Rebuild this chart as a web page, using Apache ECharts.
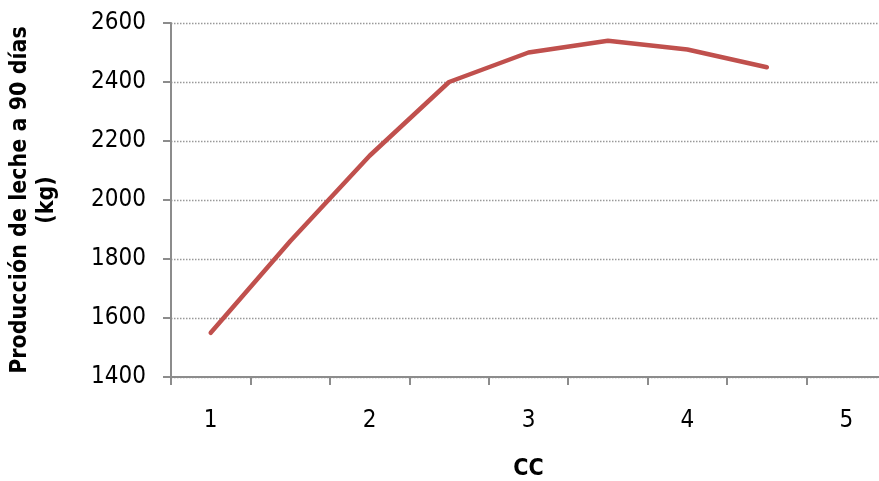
<!DOCTYPE html>
<html>
<head>
<meta charset="utf-8">
<script src="https://cdn.jsdelivr.net/npm/echarts@6/dist/echarts.min.js"></script>
<style>
  html, body { margin: 0; padding: 0; background: #fff; }
  #chart { width: 879px; height: 481px; }
</style>
</head>
<body>
<div id="chart"></div>
<script>
// Body condition score (CC) steps and 90-day milk yield (kg)
const ccCategories = ['1', '1.5', '2', '2.5', '3', '3.5', '4', '4.5', '5'];
const milkYield = [1550, 1860, 2150, 2400, 2500, 2540, 2510, 2450, null];
const yTicks = { min: 1400, max: 2600, step: 200 };

const FONT = '"DejaVu Sans Condensed", "DejaVu Sans", sans-serif';
const axisGrey = '#8c8c8c';

const chart = echarts.init(document.getElementById('chart'), null, { renderer: 'canvas' });

chart.setOption({
  backgroundColor: '#ffffff',
  animation: false,
  grid: { left: 171, right: -7, top: 23, bottom: 104, containLabel: false, outerBoundsMode: 'none' },
  xAxis: {
    type: 'category',
    data: ccCategories,
    boundaryGap: true,
    name: 'CC',
    nameLocation: 'middle',
    nameGap: 81,
    nameTextStyle: { fontFamily: FONT, fontSize: 23, fontWeight: 'bold', color: '#000' },
    axisLine: { lineStyle: { color: axisGrey, width: 2 } },
    axisTick: { show: true, interval: 0, length: 8, lineStyle: { color: axisGrey, width: 2 } },
    axisLabel: { interval: 1, margin: 32, fontFamily: FONT, fontSize: 24, color: '#000' },
    splitLine: { show: false }
  },
  yAxis: {
    type: 'value',
    min: yTicks.min,
    max: yTicks.max,
    interval: yTicks.step,
    name: 'Producción de leche a 90 días\n(kg)',
    nameLocation: 'middle',
    nameRotate: 90,
    nameGap: 110,
    nameTextStyle: { fontFamily: FONT, fontSize: 23, fontWeight: 'bold', color: '#000', lineHeight: 27, align: 'center' },
    axisLine: { show: true, lineStyle: { color: axisGrey, width: 2 } },
    axisTick: { show: true, length: 8, lineStyle: { color: axisGrey, width: 2 } },
    axisLabel: { margin: 25, fontFamily: FONT, fontSize: 24, color: '#000', formatter: v => String(v) },
    splitLine: { show: true, lineStyle: { color: '#999999', width: 1.3, type: [1.5, 1.5] } }
  },
  series: [{
    type: 'line',
    data: milkYield,
    showSymbol: false,
    symbol: 'none',
    connectNulls: false,
    lineStyle: { color: '#C0504D', width: 4.5, cap: 'round', join: 'round' },
    itemStyle: { color: '#C0504D' }
  }]
});
</script>
</body>
</html>
